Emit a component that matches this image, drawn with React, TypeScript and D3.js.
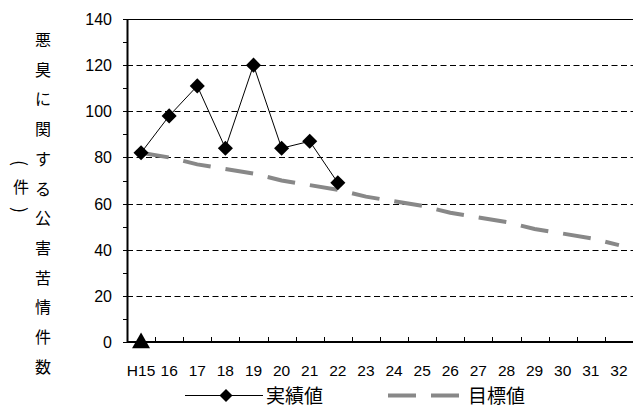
import React from "react";
import * as d3 from "d3";

// Fiscal years (Heisei era)
const years = ["H15", "16", "17", "18", "19", "20", "21", "22", "23", "24", "25", "26", "27", "28", "29", "30", "31", "32"];
// Actual complaint counts
const actual = [82, 98, 111, 84, 120, 84, 87, 69];
// Target values
const target = [82, 80, 77, 75, 73, 70, 68, 66, 63, 61, 59, 56, 54, 52, 49, 47, 45, 42];
// Baseline marker (H15)
const baseMarker = [{ year: "H15", value: 0 }];
const yTicks = [0, 20, 40, 60, 80, 100, 120, 140];
const yMinorTicks = [0, 10, 20, 30, 40, 50, 60, 70, 80, 90, 100, 110, 120, 130, 140];
const yTitle = "悪臭に関する公害苦情件数".split("");
const unitTitle = ["(", "件", ")"];
const legendLabels = ["実績値", "目標値"];

const W = 634;
const H = 417;
const left = 127;
const right = 633;
const top = 19;
const bottom = 342;

const numFont = "'Liberation Sans', Arial, sans-serif";
const jpFont = "'Noto Sans CJK JP', sans-serif";

export default function App() {
  const x = d3.scaleBand<string>().domain(years).range([left, right]).padding(0);
  const y = d3.scaleLinear().domain([0, 140]).range([bottom, top]);
  const cx = (yr: string) => (x(yr) as number) + x.bandwidth() / 2;

  const line = d3
    .line<number>()
    .x((_, i) => cx(years[i]))
    .y((d) => y(d));

  const diamond = d3.symbol().type(d3.symbolDiamond2).size(145)();
  const legDiamond = d3.symbol().type(d3.symbolDiamond2).size(108)();
  const triangle = d3.symbol().type(d3.symbolTriangle).size(140)();

  const unitY = [163, 186, 210];

  return (
    <svg width={W} height={H} style={{ position: "absolute", left: 0, top: 0, background: "#fff" }}>
      {/* horizontal gridlines */}
      {yTicks.filter((t) => t > 0).map((t) => (
        <line
          key={"g" + t}
          x1={left}
          x2={right}
          y1={Math.round(y(t)) + 0.5}
          y2={Math.round(y(t)) + 0.5}
          stroke="#000"
          strokeWidth={1}
          strokeDasharray={t === 140 ? undefined : "6,3.5"}
        />
      ))}

      {/* y axis */}
      <line x1={left + 0.5} x2={left + 0.5} y1={top} y2={bottom} stroke="#000" strokeWidth={2} />
      {yMinorTicks.map((t) => (
        <line key={"yt" + t} x1={left - 4} x2={left} y1={Math.round(y(t)) + 0.5} y2={Math.round(y(t)) + 0.5} stroke="#000" strokeWidth={1} />
      ))}
      {yTicks.map((t) => (
        <text key={"yl" + t} x={112} y={y(t) + 6} textAnchor="end" fontFamily={numFont} fontSize={16} fill="#000">
          {t}
        </text>
      ))}

      {/* x axis */}
      <line x1={left} x2={right} y1={bottom} y2={bottom} stroke="#000" strokeWidth={2} />
      {years.slice(1).map((yr) => (
        <line key={"xt" + yr} x1={Math.round(x(yr) as number) + 0.5} x2={Math.round(x(yr) as number) + 0.5} y1={bottom - 5} y2={bottom} stroke="#000" strokeWidth={1} />
      ))}
      {years.map((yr) => (
        <text key={"xl" + yr} x={cx(yr)} y={376} textAnchor="middle" fontFamily={numFont} fontSize={15.5} fill="#000">
          {yr}
        </text>
      ))}

      {/* target series */}
      <path d={line(target) ?? ""} fill="none" stroke="#888" strokeWidth={4} strokeDasharray="28,15" />

      {/* actual series */}
      <path d={line(actual) ?? ""} fill="none" stroke="#000" strokeWidth={1} />
      {actual.map((v, i) => (
        <path key={"m" + i} d={diamond ?? ""} transform={`translate(${cx(years[i])},${y(v)})`} fill="#000" />
      ))}

      {/* baseline marker */}
      {baseMarker.map((m) => (
        <path key={"b" + m.year} d={triangle ?? ""} transform={`translate(${cx(m.year)},${y(m.value) + 1})`} fill="#000" />
      ))}

      {/* y axis title, stacked vertically */}
      {yTitle.map((c, i) => (
        <text key={"t" + i} x={43} y={40 + i * 29.7 + 6} textAnchor="middle" fontFamily={jpFont} fontSize={16} fill="#000">
          {c}
        </text>
      ))}
      {unitTitle.map((c, i) => (
        <text
          key={"u" + i}
          x={0}
          y={0}
          transform={`translate(21,${unitY[i]})${i === 1 ? "" : " rotate(90)"}`}
          textAnchor="middle"
          dominantBaseline="central"
          fontFamily={jpFont}
          fontSize={i === 1 ? 16 : 18}
          fill="#000"
        >
          {c}
        </text>
      ))}

      {/* legend */}
      <line x1={185} x2={263} y1={395.5} y2={395.5} stroke="#000" strokeWidth={1} />
      <path d={legDiamond ?? ""} transform="translate(226,395.5)" fill="#000" />
      <text x={266} y={403} fontFamily={jpFont} fontSize={19} fill="#000">
        {legendLabels[0]}
      </text>
      <line x1={388} x2={460} y1={395.5} y2={395.5} stroke="#888" strokeWidth={4} strokeDasharray="28,15" />
      <text x={468} y={403} fontFamily={jpFont} fontSize={19} fill="#000">
        {legendLabels[1]}
      </text>
    </svg>
  );
}
